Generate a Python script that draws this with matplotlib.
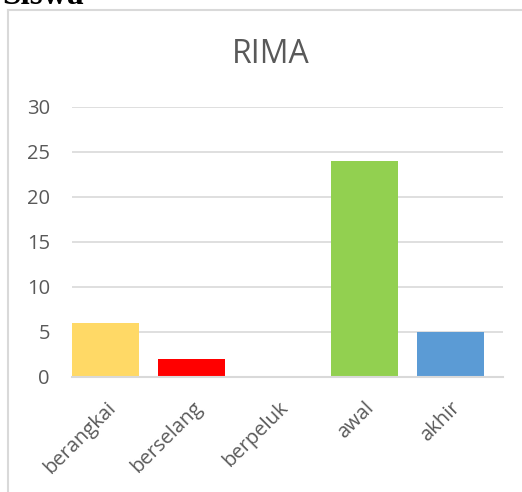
import matplotlib.pyplot as plt
from matplotlib.lines import Line2D

# data
categories = ['berangkai', 'berselang', 'berpeluk', 'awal', 'akhir']
values = [6, 2, 0, 24, 5]
colors = ['#FFD966', '#FF0000', '#92D050', '#92D050', '#5B9BD5']
yticks = [0, 5, 10, 15, 20, 25, 30]

plt.rcParams['font.family'] = ['Open Sans', 'DejaVu Sans']

fig = plt.figure(figsize=(5.22, 4.92), dpi=100)
ax = fig.add_axes([0.138, 0.2343, 0.8257, 0.5488])

x = range(len(categories))
ax.bar(x, values, width=0.78, color=colors, zorder=3)

ax.set_xlim(-0.39, 4.61)
ax.set_ylim(0, 30)
ax.set_yticks(yticks)
ax.set_xticks(list(x))
ax.set_xticklabels(categories, rotation=45, ha='right', va='top', rotation_mode='anchor')
ax.tick_params(axis='both', length=0, labelsize=14.5, labelcolor='#595959')
ax.tick_params(axis='x', pad=15)
ax.tick_params(axis='y', pad=16)

ax.grid(axis='y', color='#d9d9d9', linewidth=1.2, zorder=0)
for s in ['top', 'right', 'left']:
    ax.spines[s].set_visible(False)
ax.spines['bottom'].set_color('#d9d9d9')
ax.spines['bottom'].set_linewidth(1.5)
ax.spines['bottom'].set_zorder(4)

fig.text(0.519, 0.889, 'RIMA', ha='center', va='center', fontsize=23, color='#595959')

# chart frame (partially visible)
fig.add_artist(Line2D([0.0153, 0.0153], [0.0, 0.9797], color='#d9d9d9', linewidth=1.5))
fig.add_artist(Line2D([0.0153, 1.0], [0.9797, 0.9797], color='#d9d9d9', linewidth=1.5))

# cut-off heading above the chart
fig.text(0.004, 0.992, 'Siswa', ha='left', va='baseline', fontsize=24, fontweight='bold',
         family='Liberation Serif', color='black')

fig.savefig('out.png', dpi=100)
